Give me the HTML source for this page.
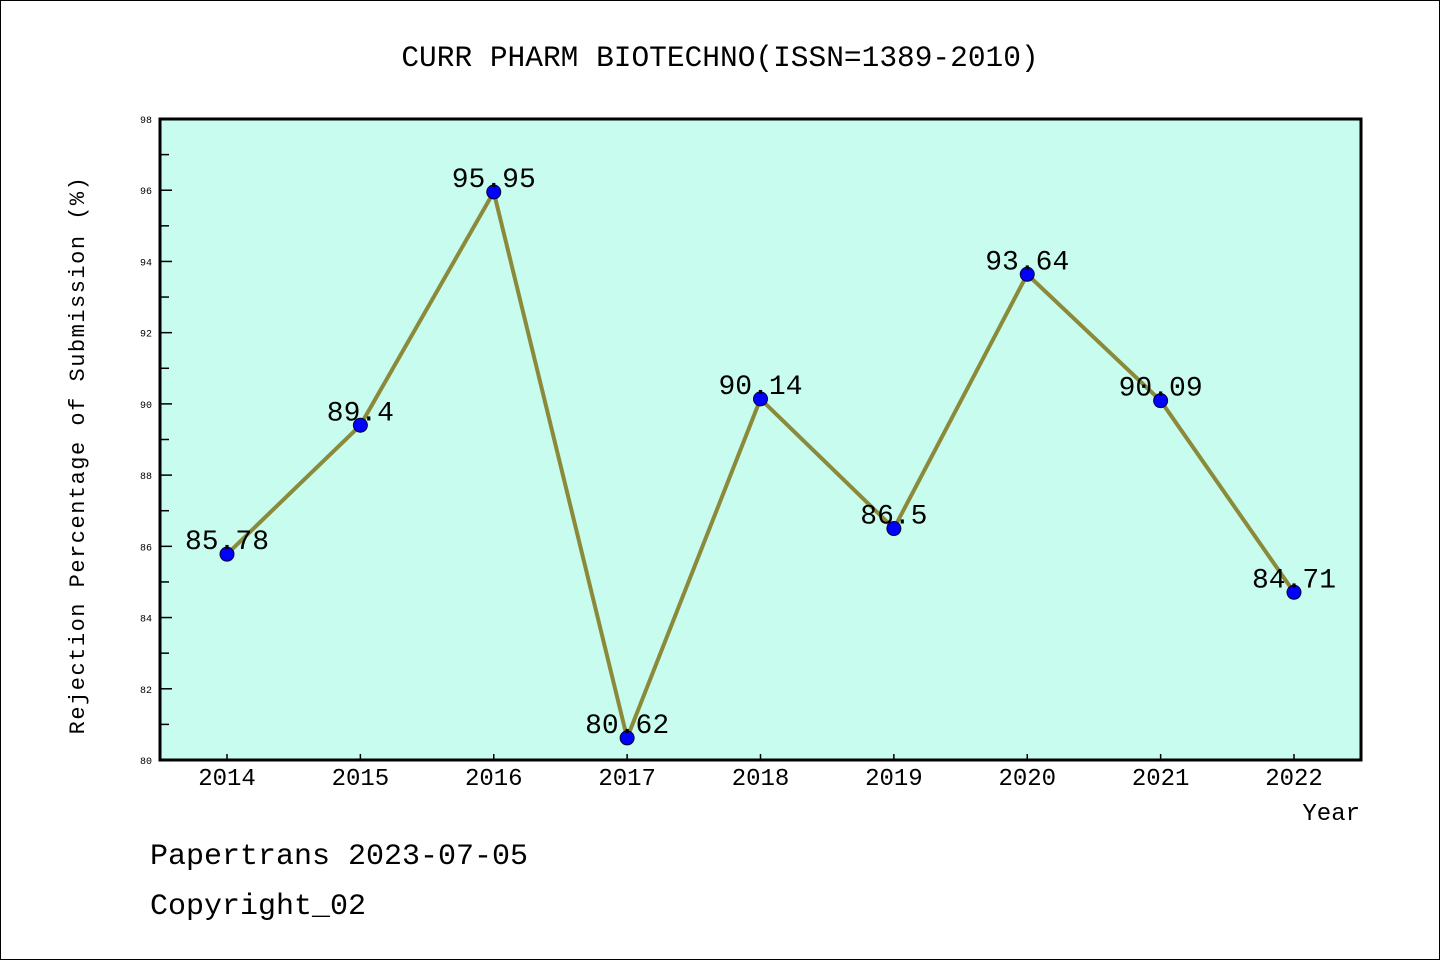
<!DOCTYPE html>
<html><head><meta charset="utf-8"><style>
html,body{margin:0;padding:0;background:#fff}
svg text{font-family:"Liberation Mono","DejaVu Sans Mono",monospace}
</style></head><body>
<svg id="chart" width="1440" height="960" xmlns="http://www.w3.org/2000/svg">
<rect x="0.5" y="0.5" width="1439" height="959" fill="#fff" stroke="#000"/>
<text x="720" y="66" text-anchor="middle" font-size="29.5">CURR PHARM BIOTECHNO(ISSN=1389-2010)</text>
<rect x="160" y="119" width="1201" height="641" fill="#c8fcee"/>
<g id="axes"></g>
<g id="series"></g>
<rect x="160" y="119" width="1201" height="641" fill="none" stroke="#000" stroke-width="3"/>
<text transform="translate(84,455) rotate(-90)" text-anchor="middle" font-size="22" letter-spacing="1.5">Rejection Percentage of Submission (%)</text>
<text x="1360" y="820" text-anchor="end" font-size="24">Year</text>
<text x="150" y="864" font-size="30">Papertrans 2023-07-05</text>
<text x="150" y="914" font-size="30">Copyright_02</text>
</svg>
<script>
const years = ["2014","2015","2016","2017","2018","2019","2020","2021","2022"];
const values = [85.78, 89.4, 95.95, 80.62, 90.14, 86.5, 93.64, 90.09, 84.71];
const valueLabels = ["85.78","89.4","95.95","80.62","90.14","86.5","93.64","90.09","84.71"];
const yTicks = [80,82,84,86,88,90,92,94,96,98];

const NS = "http://www.w3.org/2000/svg";
const yMin = 80, yMax = 98, plotTop = 119, plotBottom = 760;
function yScale(v){ return plotBottom - (v - yMin) / (yMax - yMin) * (plotBottom - plotTop); }
function xScale(i){ return 227 + i * (1294 - 227) / (years.length - 1); }
function mk(tag, attrs, parent){ const e = document.createElementNS(NS, tag); for (const k in attrs) e.setAttribute(k, attrs[k]); parent.appendChild(e); return e; }
const axesG = document.getElementById("axes");
const seriesG = document.getElementById("series");

yTicks.forEach((t, i) => {
  const y = yScale(t);
  const tk = mk("line", {x1:160, x2:172, y1:y, y2:y, stroke:"#000", "stroke-width":1.5}, axesG);
  
  
  const lb = mk("text", {x:152, y:y+4, "text-anchor":"end", "font-size":10, "font-family":"Liberation Sans, sans-serif"}, axesG);
  lb.textContent = t;
  
  
  if (i < yTicks.length - 1) {
    const ym = yScale(t + 1);
    const mn = mk("line", {x1:160, x2:169, y1:ym, y2:ym, stroke:"#000", "stroke-width":1.5}, axesG);
    
    
  }
});
years.forEach((yr, i) => {
  const x = xScale(i);
  const tk = mk("line", {x1:x, x2:x, y1:760, y2:754, stroke:"#000", "stroke-width":1.5}, axesG);
  
  
  const lb = mk("text", {x:x, y:785, "text-anchor":"middle", "font-size":24, "font-family":"Liberation Sans, sans-serif"}, axesG);
  lb.textContent = yr;
  
  
});
const pts = values.map((v, i) => xScale(i) + "," + yScale(v)).join(" ");
const line = mk("polyline", {points:pts, fill:"none", stroke:"#8b8a3a", "stroke-width":4, "stroke-linejoin":"round"}, seriesG);


values.forEach((v, i) => {
  const c = mk("circle", {cx:xScale(i), cy:yScale(v), r:7, fill:"#0000ff", stroke:"#000033", "stroke-width":1}, seriesG);
  
  
  const t = mk("text", {x:xScale(i), y:yScale(v) - 5, "text-anchor":"middle", "font-size":28, "font-family":"Liberation Sans, sans-serif"}, seriesG);
  t.textContent = valueLabels[i];
  
  
});
</script>
</body></html>
